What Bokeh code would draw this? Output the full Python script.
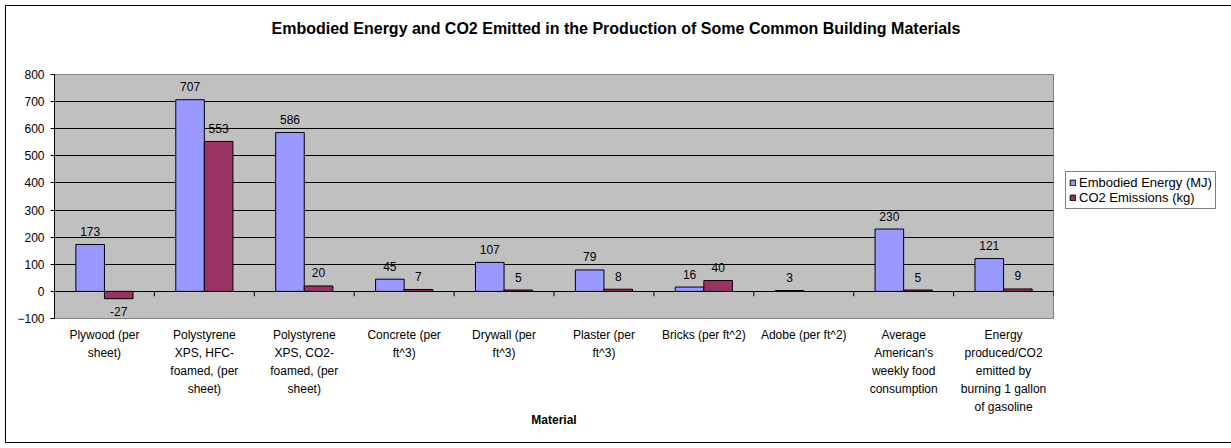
import math
from bokeh.plotting import figure
from bokeh.models import ColumnDataSource, FactorRange, Range1d, FixedTicker, Legend, LegendItem, Title
from bokeh.transform import dodge
from bokeh.core.properties import value
from bokeh.embed import file_html
from bokeh.resources import INLINE

# ---------------- data ----------------
materials = [
    "Plywood (per sheet)",
    "Polystyrene XPS, HFC-foamed, (per sheet)",
    "Polystyrene XPS, CO2-foamed, (per sheet)",
    "Concrete (per ft^3)",
    "Drywall (per ft^3)",
    "Plaster (per ft^3)",
    "Bricks (per ft^2)",
    "Adobe (per ft^2)",
    "Average American's weekly food consumption",
    "Energy produced/CO2 emitted by burning 1 gallon of gasoline",
]
tick_labels = [
    "Plywood (per\nsheet)",
    "Polystyrene\nXPS, HFC-\nfoamed, (per\nsheet)",
    "Polystyrene\nXPS, CO2-\nfoamed, (per\nsheet)",
    "Concrete (per\nft^3)",
    "Drywall (per\nft^3)",
    "Plaster (per\nft^3)",
    "Bricks (per ft^2)",
    "Adobe (per ft^2)",
    "Average\nAmerican's\nweekly food\nconsumption",
    "Energy\nproduced/CO2\nemitted by\nburning 1 gallon\nof gasoline",
]
energy_mj = [173, 707, 586, 45, 107, 79, 16, 3, 230, 121]
co2_kg = [-27, 553, 20, 7, 5, 8, 40, float("nan"), 5, 9]
series_names = ["Embodied Energy (MJ)", "CO2 Emissions (kg)"]
y_ticks = [-100, 0, 100, 200, 300, 400, 500, 600, 700, 800]
title_text = "Embodied Energy and CO2 Emitted in the Production of Some Common Building Materials"
x_title = "Material"

# ---------------- styling ----------------
FONT = "Liberation Sans"
BLUE = "#9999FF"
RED = "#993366"
BAR_W = 0.286
OFF = BAR_W / 2


def is_missing(v):
    return v is None or (isinstance(v, float) and math.isnan(v))


def lbl(v):
    return "" if is_missing(v) else str(int(v))


def off(v):
    if is_missing(v):
        return 0
    return 13 if v < 0 else -13


n = len(materials)

src = ColumnDataSource(dict(
    cat=tick_labels,
    material=materials,
    energy=energy_mj,
    co2=co2_kg,
    e_lbl=[lbl(v) for v in energy_mj],
    c_lbl=[lbl(v) for v in co2_kg],
    e_off=[off(v) for v in energy_mj],
    c_off=[off(v) for v in co2_kg],
))

xr = FactorRange(*tick_labels, range_padding=0, factor_padding=0)
p = figure(
    x_range=xr,
    y_range=Range1d(y_ticks[0], y_ticks[-1]),
    frame_width=999, frame_height=244,
    output_backend="svg", toolbar_location=None, title=None,
    min_border_left=48, min_border_right=172, min_border_top=68, min_border_bottom=124,
    background_fill_color="#C0C0C0", border_fill_color="white",
    outline_line_color="#808080",
)
p.styles = {"border": "1px solid black", "margin": "5px 0 0 5px"}

# grid
p.xgrid.visible = False
p.ygrid.ticker = FixedTicker(ticks=y_ticks[1:-1])
p.ygrid.grid_line_color = "black"
p.ygrid.grid_line_width = 1

# bars
r1 = p.vbar(x=dodge("cat", -OFF, range=xr), top="energy", bottom=0, width=BAR_W,
            source=src, fill_color=BLUE, line_color="black", line_width=1)
r2 = p.vbar(x=dodge("cat", OFF, range=xr), top="co2", bottom=0, width=BAR_W,
            source=src, fill_color=RED, line_color="black", line_width=1)

# data labels
for col, lab, o, dx in (("energy", "e_lbl", "e_off", -OFF), ("co2", "c_lbl", "c_off", OFF)):
    p.text(x=dodge("cat", dx, range=xr), y=col, text=lab, source=src,
           text_align="center", text_baseline="middle", y_offset=o,
           text_font=value(FONT), text_font_size="12px", text_color="black")

# category boundary ticks on the zero line
tick_len = 18
p.segment(x0=list(range(n + 1)), y0=[0] * (n + 1), x1=list(range(n + 1)), y1=[-tick_len] * (n + 1),
          line_color="black", line_width=1)

# y axis
p.yaxis.ticker = FixedTicker(ticks=y_ticks)
p.yaxis.axis_line_color = "black"
p.yaxis.major_tick_line_color = "black"
p.yaxis.major_tick_out = 4
p.yaxis.major_tick_in = 0
p.yaxis.minor_tick_line_color = None
p.yaxis.major_label_standoff = 6
p.yaxis.major_label_text_font = FONT
p.yaxis.major_label_text_font_size = "12px"
p.yaxis.major_label_text_color = "black"

# x axis
p.xaxis.axis_line_color = None
p.xaxis.major_tick_line_color = None
p.xaxis.major_tick_out = 0
p.xaxis.major_tick_in = 0
p.xaxis.minor_tick_line_color = None
p.xaxis.major_label_standoff = 9
p.xaxis.major_label_text_font = FONT
p.xaxis.major_label_text_font_size = "12px"
p.xaxis.major_label_text_color = "black"
p.xaxis.major_label_text_line_height = 1.3
p.xaxis.major_label_orientation = "horizontal"
p.xaxis.axis_label = x_title
p.xaxis.axis_label_text_font = FONT
p.xaxis.axis_label_text_font_size = "12px"
p.xaxis.axis_label_text_font_style = "bold"
p.xaxis.axis_label_text_color = "black"
p.xaxis.axis_label_standoff = -4

# title: a thin spacer panel next to the frame, then the real title above it
p.add_layout(Title(text=" ", text_font_size="1px", standoff=30), "above")
p.add_layout(Title(text=title_text, align="left", offset=217,
                   text_font=FONT, text_font_size="16px", text_font_style="bold",
                   text_color="black", standoff=10), "above")

# legend in the right-hand panel
legend = Legend(
    items=[LegendItem(label=series_names[0], renderers=[r1]),
           LegendItem(label=series_names[1], renderers=[r2])],
    location=(12, 109),
    border_line_color="black", border_line_width=1,
    background_fill_color="white", background_fill_alpha=1,
    glyph_width=7, glyph_height=7, label_standoff=3,
    padding=3, spacing=0, margin=0,
    label_text_font=FONT, label_text_font_size="13px", label_text_color="black",
    label_height=14,
)
p.add_layout(legend, "right")

open("out.html", "w").write(file_html(p, INLINE))
